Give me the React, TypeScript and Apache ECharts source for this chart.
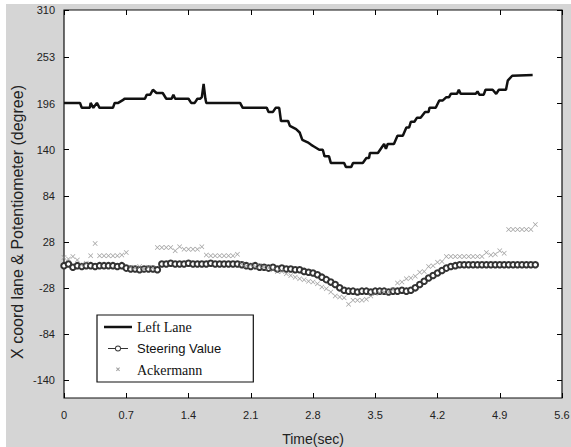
import React, { useEffect, useRef } from "react";
import * as echarts from "echarts";

// Left Lane (step-like trace): time (s) and value (degree)
const leftLaneTime = [0, 0.18, 0.2, 0.29, 0.3, 0.33, 0.37, 0.4, 0.55, 0.57, 0.61, 0.67, 0.68, 0.91, 0.93, 0.97, 1.0, 1.04, 1.11, 1.15, 1.21, 1.23, 1.25, 1.4, 1.43, 1.47, 1.5, 1.53, 1.55, 1.57, 1.59, 1.6, 1.98, 2.01, 2.28, 2.3, 2.35, 2.38, 2.42, 2.44, 2.52, 2.54, 2.61, 2.65, 2.68, 2.74, 2.78, 2.81, 2.87, 2.91, 2.93, 2.98, 3.0, 3.15, 3.17, 3.23, 3.25, 3.36, 3.4, 3.43, 3.44, 3.53, 3.58, 3.6, 3.62, 3.64, 3.71, 3.75, 3.81, 3.85, 3.88, 3.9, 3.94, 3.97, 4.01, 4.06, 4.1, 4.11, 4.18, 4.22, 4.26, 4.3, 4.33, 4.35, 4.42, 4.44, 4.46, 4.63, 4.65, 4.67, 4.72, 4.74, 4.82, 4.86, 4.89, 4.97, 4.99, 5.04, 5.27];
const leftLaneValue = [197, 197, 191, 191, 197, 191, 197, 191, 191, 197, 197, 201, 202, 202, 207, 207, 213, 209, 209, 202, 202, 207, 202, 202, 197, 197, 202, 202, 204, 220, 202, 197, 197, 191, 191, 186, 186, 191, 191, 175, 175, 169, 165, 161, 152, 149, 146, 144, 140, 140, 132, 132, 124, 124, 119, 119, 124, 124, 130, 130, 136, 136, 144, 147, 141, 147, 147, 157, 157, 167, 167, 174, 174, 179, 179, 186, 186, 191, 191, 200, 200, 204, 204, 208, 208, 213, 208, 208, 211, 207, 207, 213, 213, 208, 213, 213, 224, 230, 231];

// Sampling grid for Steering / Ackermann (0 .. 5.30 s every 0.05 s)
const sampleStep = 0.05;
const steeringValue = [
  -1, 1, -3, -1,
  -2, -1, -1, -2, -1, -1, -1, -1, -2, -1,
  -4, -5, -5, -6, -5, -5, -5, -6,
  1, 1, 2, 1, 1, 1, 2, 1, 1, 1, 1, 2, 1, 1, 1, 1, 1, 1,
  0, -1, -2, -1, -3, -3, -4, -3, -5,
  -4, -5, -5, -6, -6, -8, -9, -10, -12,
  -15, -18, -21, -24, -28,
  -31, -32, -32, -33, -32, -32, -33, -32, -32, -32, -33, -32, -32, -31, -32, -31,
  -28, -24, -20,
  -16, -13, -10, -7, -4,
  -2, -1, 0, 0, 0, 0, 0, 0, 0, 0, 0, 0, 0, 0, 0, 0, 0, 0, 0, 0,
];
const ackermannValue = [
  9, 7, 10, 6,
  0, 2,
  11, 26,
  11, 11, 11, 11, 11, 12,
  15,
  -3, -4, -2, -5, -3, -4,
  21, 21, 21, 21, 17, 22, 19, 19, 19, 19, 22,
  12, 11, 11, 11, 11, 11, 11, 13,
  1, -1, 0, -2, -1, -3, -4, -6, -8,
  -8, -11, -13, -15, -17, -18, -20, -21, -23,
  -27, -29, -33, -38, -39, -40, -48, -43, -43, -43, -42,
  -38, -35, -34, -33, -33, -30,
  -22, -21, -17, -16, -14,
  -9, -8, -2, -1, 3, 4, 10,
  10, 10, 10, 10, 10, 10, 10, 10,
  15, 12, 13, 17, 14,
  43, 43, 43, 43, 43, 43, 49,
];

const yTickLabels = [310, 253, 196, 140, 84, 28, -28, -84, -140];
const xMin = 0;
const xMax = 5.6;
const xInterval = 0.7;
const yMin = -162;
const yMax = 310;
const yTitle = "X coord lane & Potentiometer (degree)";

const X_SYMBOL = "path://M0,1L1,0L5,4L9,0L10,1L6,5L10,9L9,10L5,6L1,10L0,9L4,5Z";
// legend icons: tiny corner dots fix the bounding box so each shape keeps its own size
const BOX = "M0,0h0.01v0.01h-0.01Z M28,11h0.01v0.01h-0.01Z ";
const X_LEGEND_ICON =
  "path://" + BOX + "M12,3.5L12.7,2.8L14,4.1L15.3,2.8L16,3.5L14.7,4.8L16,6.1L15.3,6.8L14,5.5L12.7,6.8L12,6.1L13.3,4.8Z";
const LINE_LEGEND_ICON = "path://" + BOX + "M0,4.3h28v2.4h-28Z";
const STEER_LEGEND_ICON =
  "path://" + BOX +
  "M4,5h7v1h-7Z M17,5h7v1h-7Z M14,2.5A3,3 0 1,1 14,8.5A3,3 0 1,1 14,2.5Z M14,3.4A2.1,2.1 0 1,0 14,7.6A2.1,2.1 0 1,0 14,3.4Z";

export default function App() {
  const ref = useRef<HTMLDivElement>(null);
  useEffect(() => {
    if (!ref.current) return;
    const chart = echarts.init(ref.current, undefined, { renderer: "svg" });
    const sampleTime = (i: number) => Math.round(i * sampleStep * 100) / 100;
    const laneData = leftLaneTime.map((t, i) => [t, leftLaneValue[i]]);
    const steerData = steeringValue.map((v, i) => [sampleTime(i), v]);
    const ackData = ackermannValue.map((v, i) => [sampleTime(i), v]);
    const sans = "Liberation Sans, Arial, sans-serif";
    const serif = "Liberation Serif, Times New Roman, serif";
    const baseX = {
      type: "value" as const,
      min: xMin,
      max: xMax,
      interval: xInterval,
      splitLine: { show: false },
      axisLine: { show: false, onZero: false },
      axisTick: { inside: true, length: 5, lineStyle: { color: "#000" } },
    };
    const baseY = {
      type: "value" as const,
      min: yMin,
      max: yMax,
      splitLine: { show: false },
      axisLine: { show: false, onZero: false },
      axisTick: { inside: true, length: 5, customValues: yTickLabels, lineStyle: { color: "#000" } },
    };
    chart.setOption({
      animation: false,
      backgroundColor: "#d5d5d5",
      grid: {
        left: 58,
        right: 9,
        top: 6,
        bottom: 49,
        containLabel: false,
        outerBoundsMode: "none",
        show: true,
        backgroundColor: "#fff",
        borderColor: "#111",
        borderWidth: 1.2,
      },
      graphic: [
        {
          type: "text",
          x: 11,
          y: 218,
          rotation: Math.PI / 2,
          style: {
            text: yTitle,
            fontFamily: sans,
            fontSize: 16,
            fill: "#222",
            textAlign: "center",
            textVerticalAlign: "middle",
          },
        },
      ],
      xAxis: [
        {
          ...baseX,
          position: "bottom",
          name: "Time(sec)",
          nameLocation: "middle",
          nameGap: 34,
          nameTextStyle: { fontFamily: sans, fontSize: 14, color: "#222" },
          axisLabel: {
            margin: 11,
            fontFamily: sans,
            fontSize: 11,
            color: "#222",
            formatter: (v: number) => (v === 0 ? "0" : v.toFixed(1)),
          },
        },
        { ...baseX, position: "top", axisLabel: { show: false } },
      ],
      yAxis: [
        {
          ...baseY,
          position: "left",
          axisLabel: {
            customValues: yTickLabels,
            margin: 9,
            fontFamily: sans,
            fontSize: 11,
            color: "#222",
          },
        },
        { ...baseY, position: "right", axisLabel: { show: false } },
      ],
      legend: {
        orient: "vertical",
        left: 91,
        top: 311,
        padding: [5, 32, 5, 7],
        itemGap: 8,
        itemWidth: 28,
        itemHeight: 11,
        backgroundColor: "#fff",
        borderColor: "#111",
        borderWidth: 1.2,
        borderRadius: 0,
        data: [
          { name: "Left Lane", icon: LINE_LEGEND_ICON },
          { name: "Steering Value", icon: STEER_LEGEND_ICON },
          { name: "Ackermann", icon: X_LEGEND_ICON },
        ],
        formatter: (name: string) => (name === "Steering Value" ? `{s|${name}}` : `{r|${name}}`),
        textStyle: {
          color: "#111",
          rich: {
            s: { fontFamily: sans, fontSize: 13, color: "#111" },
            r: { fontFamily: serif, fontSize: 14, color: "#111" },
          },
        },
      },
      series: [
        {
          name: "Left Lane",
          type: "line",
          data: laneData,
          showSymbol: false,
          symbol: "none",
          lineStyle: { color: "#111", width: 2.5 },
          itemStyle: { color: "#111" },
          z: 3,
        },
        {
          name: "Steering Value",
          type: "line",
          data: steerData,
          symbol: "emptyCircle",
          symbolSize: 5.5,
          lineStyle: { color: "#333", width: 1 },
          itemStyle: { color: "#333", borderWidth: 0.9 },
          z: 2,
        },
        {
          name: "Ackermann",
          type: "scatter",
          data: ackData,
          symbol: X_SYMBOL,
          symbolSize: 5,
          itemStyle: { color: "#8a8a8a" },
          z: 4,
        },
      ],
    });
    return () => chart.dispose();
  }, []);
  return (
    <div style={{ position: "absolute", left: 0, top: 0, width: 571, height: 447, background: "#fff" }}>
      <div ref={ref} style={{ position: "absolute", left: 6, top: 4, width: 565, height: 443 }} />
    </div>
  );
}
